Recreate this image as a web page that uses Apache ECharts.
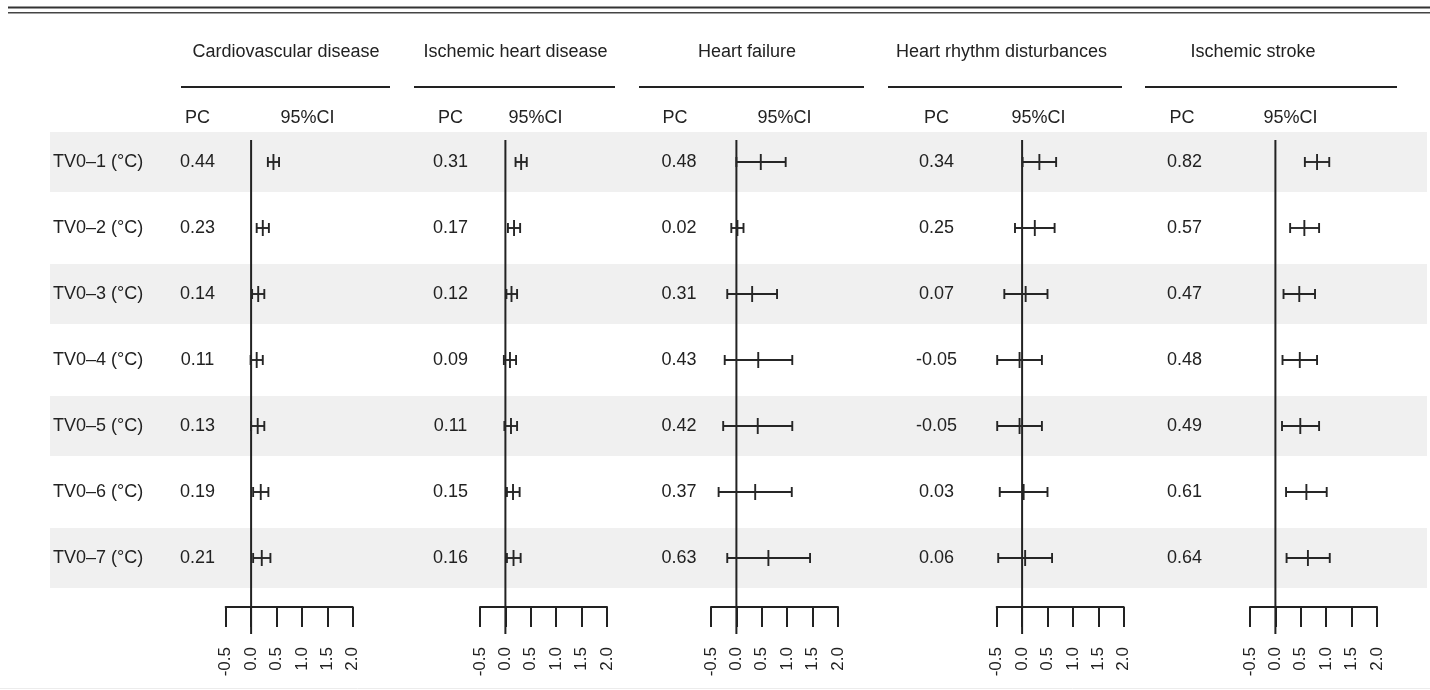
<!DOCTYPE html>
<html>
<head>
<meta charset="utf-8">
<script src="https://cdn.jsdelivr.net/npm/echarts@6/dist/echarts.min.js"></script>
<style>
html,body{margin:0;padding:0;background:#fff;}
#chart{width:1430px;height:690px;}
</style>
</head>
<body>
<div id="chart"></div>
<script>
// ---------- data ----------
const rowLabels = ['TV0–1 (°C)', 'TV0–2 (°C)', 'TV0–3 (°C)', 'TV0–4 (°C)', 'TV0–5 (°C)', 'TV0–6 (°C)', 'TV0–7 (°C)'];
const outcomes = ['Cardiovascular disease', 'Ischemic heart disease', 'Heart failure', 'Heart rhythm disturbances', 'Ischemic stroke'];
const colPC = 'PC';
const colCI = '95%CI';
const xTicks = [-0.5, 0, 0.5, 1, 1.5, 2];

const pcCVD = [0.44, 0.23, 0.14, 0.11, 0.13, 0.19, 0.21];
const loCVD = [0.33, 0.11, 0.02, -0.01, 0.00, 0.04, 0.04];
const hiCVD = [0.55, 0.35, 0.26, 0.23, 0.26, 0.34, 0.38];

const pcIHD = [0.31, 0.17, 0.12, 0.09, 0.11, 0.15, 0.16];
const loIHD = [0.20, 0.05, 0.02, -0.03, -0.02, 0.03, 0.03];
const hiIHD = [0.42, 0.29, 0.23, 0.21, 0.23, 0.28, 0.30];

const pcHF = [0.48, 0.02, 0.31, 0.43, 0.42, 0.37, 0.63];
const loHF = [0.00, -0.10, -0.18, -0.23, -0.26, -0.35, -0.18];
const hiHF = [0.97, 0.14, 0.80, 1.10, 1.10, 1.09, 1.45];

const pcHRD = [0.34, 0.25, 0.07, -0.05, -0.05, 0.03, 0.06];
const loHRD = [0.01, -0.14, -0.35, -0.49, -0.49, -0.44, -0.47];
const hiHRD = [0.67, 0.64, 0.50, 0.39, 0.39, 0.50, 0.59];

const pcIS = [0.82, 0.57, 0.47, 0.48, 0.49, 0.61, 0.64];
const loIS = [0.58, 0.29, 0.16, 0.14, 0.13, 0.21, 0.22];
const hiIS = [1.06, 0.86, 0.78, 0.82, 0.86, 1.01, 1.07];

const panelData = [
  { pc: pcCVD, lo: loCVD, hi: hiCVD },
  { pc: pcIHD, lo: loIHD, hi: hiIHD },
  { pc: pcHF,  lo: loHF,  hi: hiHF },
  { pc: pcHRD, lo: loHRD, hi: hiHRD },
  { pc: pcIS,  lo: loIS,  hi: hiIS }
];

// ---------- layout ----------
const FONT = '"Liberation Sans", Arial, Helvetica, sans-serif';
const INK = '#222';
const BAND = '#f0f0f0';
const gridTop = 129, gridH = 462;
const panelLayout = [
  { left: 225.7, pcMargin: 28.2, title: 286,   pcHead: 197.5, ciHead: 307.5, ul: [181, 390] },
  { left: 480,   pcMargin: 29.5, title: 515.5, pcHead: 450.5, ciHead: 535.5, ul: [414, 615] },
  { left: 711,   pcMargin: 32,   title: 747,   pcHead: 675,   ciHead: 784.5, ul: [639, 864] },
  { left: 996.7, pcMargin: 60.2, title: 1001.5,pcHead: 936.5, ciHead: 1038.5, ul: [888, 1122] },
  { left: 1250,  pcMargin: 65.5, title: 1253,  pcHead: 1182,  ciHead: 1290.5, ul: [1145, 1397] }
];
const panelW = 127;

const grids = [{ left: 50, top: gridTop, width: 1377, height: gridH }];
const xAxes = [{ gridIndex: 0, type: 'value', min: 0, max: 1, show: false }];
const yAxes = [{
  gridIndex: 0, type: 'category', inverse: true, data: rowLabels, z: 5,
  axisLine: { show: false }, axisTick: { show: false }, splitLine: { show: false },
  axisLabel: { inside: true, margin: 3, align: 'left', color: INK, fontSize: 18, fontFamily: FONT }
}];
const series = [{
  type: 'bar', xAxisIndex: 0, yAxisIndex: 0, barWidth: 60, z: 1, silent: true,
  itemStyle: { color: BAND },
  data: rowLabels.map((_, i) => (i % 2 === 0 ? 1 : '-'))
}];

const graphics = [
  { type: 'line', shape: { x1: 8, y1: 7.5, x2: 1430, y2: 7.5 }, style: { stroke: '#333', lineWidth: 2.2 } },
  { type: 'line', shape: { x1: 8, y1: 12.8, x2: 1430, y2: 12.8 }, style: { stroke: '#444', lineWidth: 1.6 } },
  { type: 'line', shape: { x1: 0, y1: 688.5, x2: 1430, y2: 688.5 }, style: { stroke: '#ececec', lineWidth: 1 } }
];

panelLayout.forEach((L, p) => {
  const gi = p + 1;
  const d = panelData[p];
  grids.push({ left: L.left, top: gridTop, width: panelW, height: gridH });
  xAxes.push({
    gridIndex: gi, type: 'value', min: -0.5, max: 2, interval: 0.5, offset: 16,
    axisLine: { show: true, lineStyle: { color: INK, width: 2 } },
    axisTick: { show: true, length: 20, lineStyle: { color: INK, width: 2 } },
    splitLine: { show: false },
    axisLabel: {
      rotate: 90, margin: 40, color: INK, fontSize: 17, fontFamily: FONT,
      showMinLabel: true, showMaxLabel: true,
      formatter: v => xTicks.indexOf(v) >= 0 ? v.toFixed(1) : ''
    }
  });
  yAxes.push({
    gridIndex: gi, type: 'category', inverse: true, z: 5,
    data: d.pc.map(v => v.toFixed(2)),
    axisLine: { show: false }, axisTick: { show: false }, splitLine: { show: false },
    axisLabel: { margin: L.pcMargin, align: 'center', color: INK, fontSize: 18, fontFamily: FONT }
  });
  // reference line at 0
  series.push({
    type: 'custom', xAxisIndex: gi, yAxisIndex: gi, silent: true, z: 3,
    data: [[0, 0]],
    encode: { x: 0, y: 1 },
    renderItem: (params, api) => {
      const x = api.coord([api.value(0), 0])[0];
      const cs = params.coordSys;
      return { type: 'line', shape: { x1: x, y1: cs.y + 11, x2: x, y2: cs.y + cs.height + 43 },
               style: { stroke: INK, lineWidth: 2 } };
    }
  });
  // error bars
  series.push({
    type: 'custom', xAxisIndex: gi, yAxisIndex: gi, silent: true, z: 4,
    data: d.pc.map((v, i) => [d.lo[i], d.hi[i], v, i]),
    encode: { x: [0, 1, 2], y: 3 },
    renderItem: (params, api) => {
      const r = api.value(3);
      const a = api.coord([api.value(0), r]);
      const b = api.coord([api.value(1), r]);
      const c = api.coord([api.value(2), r]);
      const st = { stroke: '#262626', lineWidth: 1.9 };
      return { type: 'group', children: [
        { type: 'line', shape: { x1: a[0], y1: a[1], x2: b[0], y2: b[1] }, style: st },
        { type: 'line', shape: { x1: a[0], y1: a[1] - 5, x2: a[0], y2: a[1] + 5 }, style: st },
        { type: 'line', shape: { x1: b[0], y1: b[1] - 5, x2: b[0], y2: b[1] + 5 }, style: st },
        { type: 'line', shape: { x1: c[0], y1: c[1] - 8, x2: c[0], y2: c[1] + 8 }, style: st }
      ] };
    }
  });
  // header texts
  graphics.push(
    { type: 'text', x: L.title, y: 52, style: { text: outcomes[p], fill: INK, font: '18px ' + FONT, textAlign: 'center', textVerticalAlign: 'middle' } },
    { type: 'line', shape: { x1: L.ul[0], y1: 87, x2: L.ul[1], y2: 87 }, style: { stroke: INK, lineWidth: 2 } },
    { type: 'text', x: L.pcHead, y: 118, style: { text: colPC, fill: INK, font: '18px ' + FONT, textAlign: 'center', textVerticalAlign: 'middle' } },
    { type: 'text', x: L.ciHead, y: 118, style: { text: colCI, fill: INK, font: '18px ' + FONT, textAlign: 'center', textVerticalAlign: 'middle' } }
  );
});

const chart = echarts.init(document.getElementById('chart'), null, { renderer: 'canvas' });
chart.setOption({
  animation: false,
  backgroundColor: '#fff',
  grid: grids,
  xAxis: xAxes,
  yAxis: yAxes,
  series: series,
  graphic: graphics
});
</script>
</body>
</html>
